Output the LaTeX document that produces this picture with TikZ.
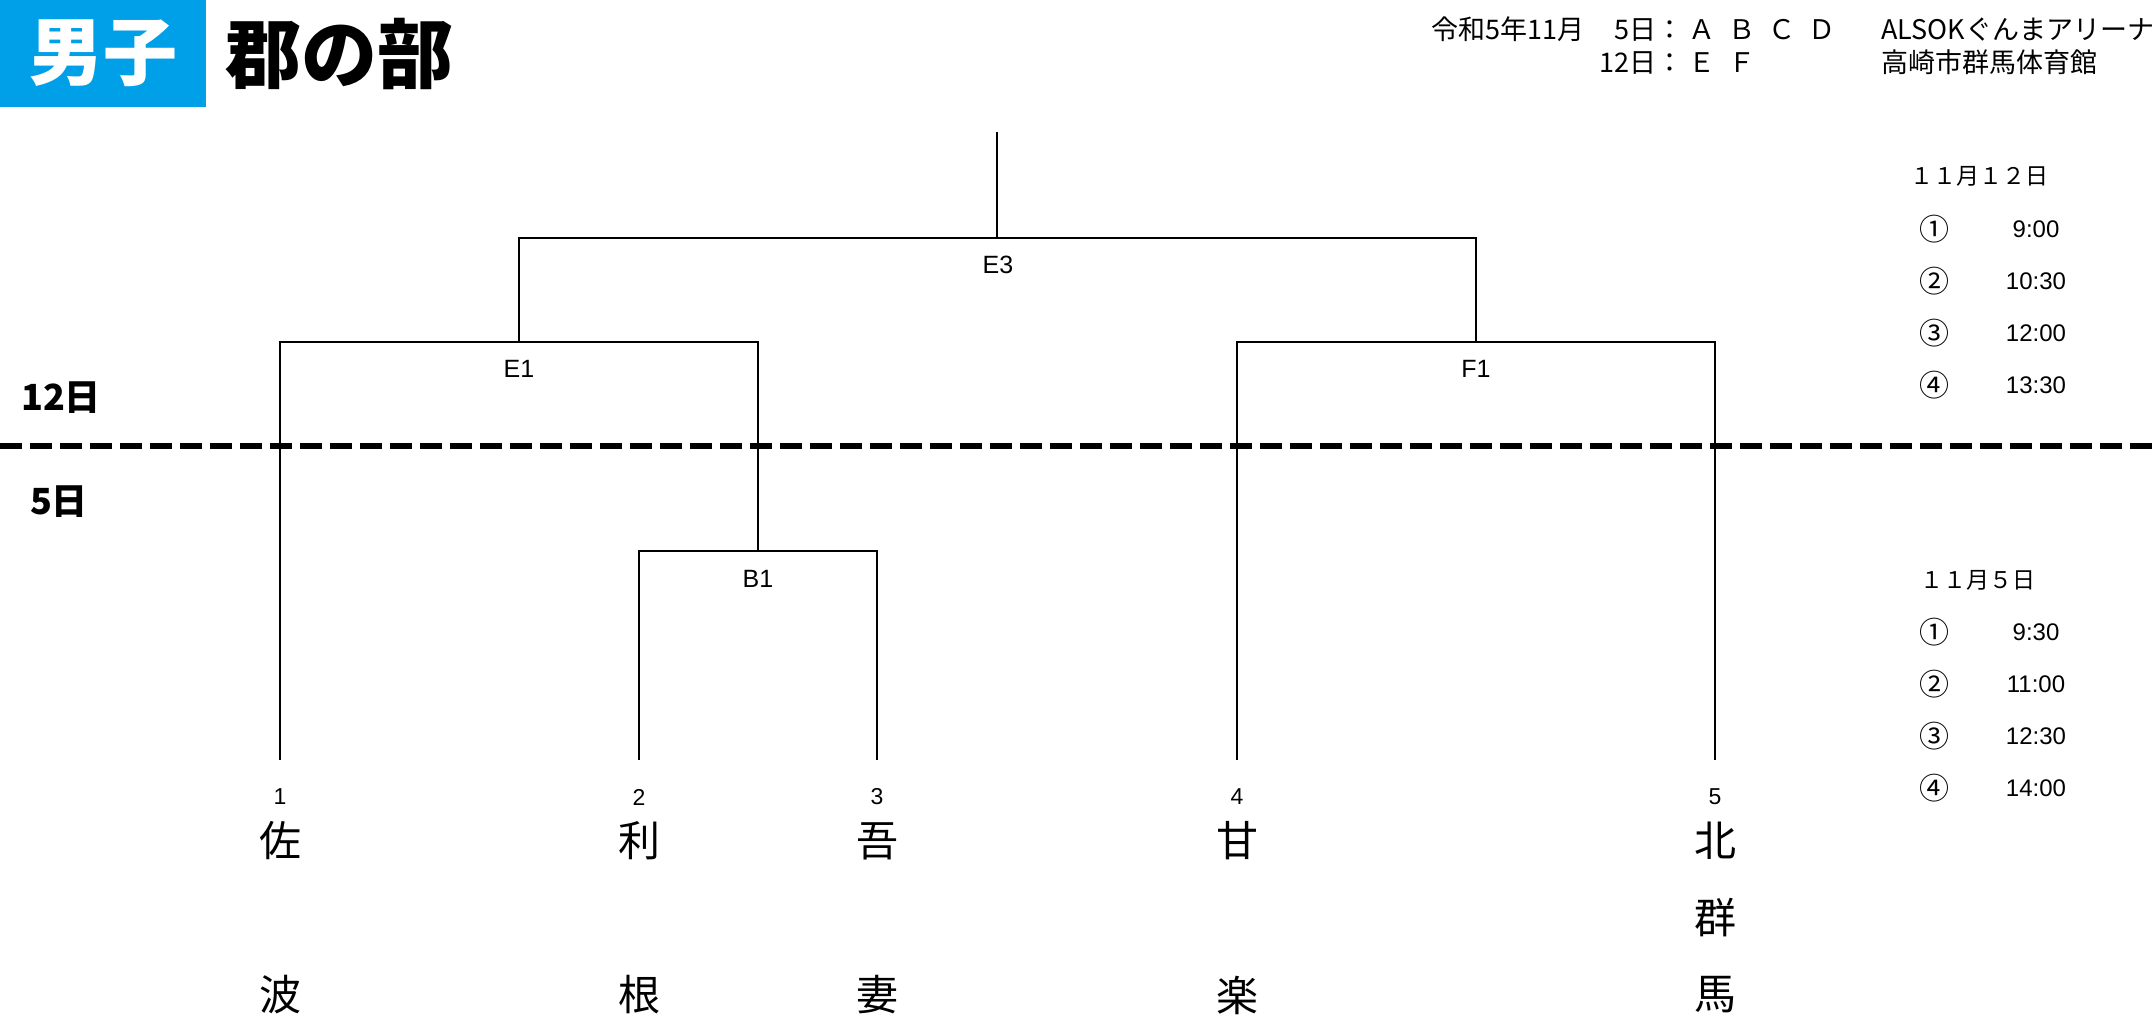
\documentclass[tikz,border=0pt]{standalone}
\usepackage{fontspec}
\setmainfont{Liberation Sans}
\newfontfamily\jp{Noto Sans CJK JP}
\definecolor{hdrblue}{RGB}{0,160,233}
\begin{document}
\begin{tikzpicture}[x=1pt,y=-1pt,
  bline/.style={line width=2.4pt},
  dashline/.style={line width=6pt, dash pattern=on 22pt off 8pt},
  lbl/.style={inner sep=0pt, font=\fontsize{25}{30}\selectfont},
  num/.style={inner sep=0pt, font=\fontsize{23}{28}\selectfont},
  team/.style={inner sep=0pt, font=\jp\fontsize{42}{50}\selectfont},
  jps/.style={inner sep=0pt, font=\jp\fontsize{27}{30}\selectfont},
  sched/.style={inner sep=0pt, font=\jp\fontsize{23}{26}\selectfont},
  circ/.style={inner sep=0pt, font=\jp\fontsize{30}{32}\selectfont},
  tm/.style={inner sep=0pt, font=\fontsize{24}{28}\selectfont},
  daylbl/.style={inner sep=0pt, font=\jp\bfseries\fontsize{36}{40}\selectfont}
]
\useasboundingbox (0,0) rectangle (2156,1030);

% header
\node[fill=hdrblue, text=white, minimum width=206pt, minimum height=107pt,
      anchor=north west, inner sep=0pt, font=\jp\bfseries\fontsize{74}{80}\selectfont] (hdr) at (0,0) {男子};
\node[inner sep=0pt, font=\jp\bfseries\fontsize{76}{80}\selectfont] (title) at (339,54) {郡の部};

% top right info
\node[jps, anchor=base east] (d1) at (1684,40) {令和5年11月\hspace{30pt}5日：};
\node[jps, anchor=base west] (d1l) at (1688,40) {Ａ\hspace{13pt}Ｂ\hspace{13pt}Ｃ\hspace{13pt}Ｄ};
\node[jps, anchor=base east] (d2) at (1684,73) {12日：};
\node[jps, anchor=base west] (d2l) at (1688,73) {Ｅ\hspace{13pt}Ｆ};
\node[jps, anchor=base west] (v1) at (1881,40) {ALSOKぐんまアリーナ};
\node[jps, anchor=base west] (v2) at (1881,73) {高崎市群馬体育館};

% day divider
\coordinate (dl) at (0,446);
\coordinate (dr) at (2156,446);
\draw[dashline] (dl) -- (dr);
\node[daylbl] (day12) at (61,398) {12日};
\node[daylbl] (day5) at (59,502) {5日};

% bracket points
\coordinate (top) at (997,132);
\coordinate (e3) at (997,238);
\coordinate (e1) at (519,342);
\coordinate (f1) at (1476,342);
\coordinate (b1) at (758,551);
\coordinate (t1) at (280,760);
\coordinate (t2) at (639,760);
\coordinate (t3) at (877,760);
\coordinate (t4) at (1237,760);
\coordinate (t5) at (1715,760);

\draw[bline] (top) -- (e3);
\draw[bline] (e1) |- (e3) -| (f1);
\draw[bline] (t1) |- (e1) -| (b1);
\draw[bline] (t2) |- (b1) -| (t3);
\draw[bline] (t4) |- (f1) -| (t5);

\node[lbl] (le3) at (998,265) {E3};
\node[lbl] (le1) at (519,369) {E1};
\node[lbl] (lf1) at (1476,369) {F1};
\node[lbl] (lb1) at (758,579) {B1};

% entry numbers
\node[num] (n1) at (280,797) {1};
\node[num] (n2) at (639,797) {2};
\node[num] (n3) at (877,797) {3};
\node[num] (n4) at (1237,797) {4};
\node[num] (n5) at (1715,797) {5};

% team names (vertical)
\node[team] (s1a) at (280,841) {佐};
\node[team] (s1b) at (280,995) {波};
\node[team] (s2a) at (639,841) {利};
\node[team] (s2b) at (639,995) {根};
\node[team] (s3a) at (877,841) {吾};
\node[team] (s3b) at (877,995) {妻};
\node[team] (s4a) at (1237,841) {甘};
\node[team] (s4b) at (1237,995) {楽};
\node[team] (s5a) at (1715,841) {北};
\node[team] (s5b) at (1715,918) {群};
\node[team] (s5c) at (1715,995) {馬};

% schedule 12th
\node[sched, anchor=west] (h12) at (1910,176) {１１月１２日};
\node[circ] (c12a) at (1934,229) {①};
\node[circ] (c12b) at (1934,281) {②};
\node[circ] (c12c) at (1934,333) {③};
\node[circ] (c12d) at (1934,385) {④};
\node[tm] (m12a) at (2036,229) {9:00};
\node[tm] (m12b) at (2036,281) {10:30};
\node[tm] (m12c) at (2036,333) {12:00};
\node[tm] (m12d) at (2036,385) {13:30};

% schedule 5th
\node[sched, anchor=west] (h5) at (1920,580) {１１月５日};
\node[circ] (c5a) at (1934,632) {①};
\node[circ] (c5b) at (1934,684) {②};
\node[circ] (c5c) at (1934,736) {③};
\node[circ] (c5d) at (1934,788) {④};
\node[tm] (m5a) at (2036,632) {9:30};
\node[tm] (m5b) at (2036,684) {11:00};
\node[tm] (m5c) at (2036,736) {12:30};
\node[tm] (m5d) at (2036,788) {14:00};
\end{tikzpicture}
\end{document}
